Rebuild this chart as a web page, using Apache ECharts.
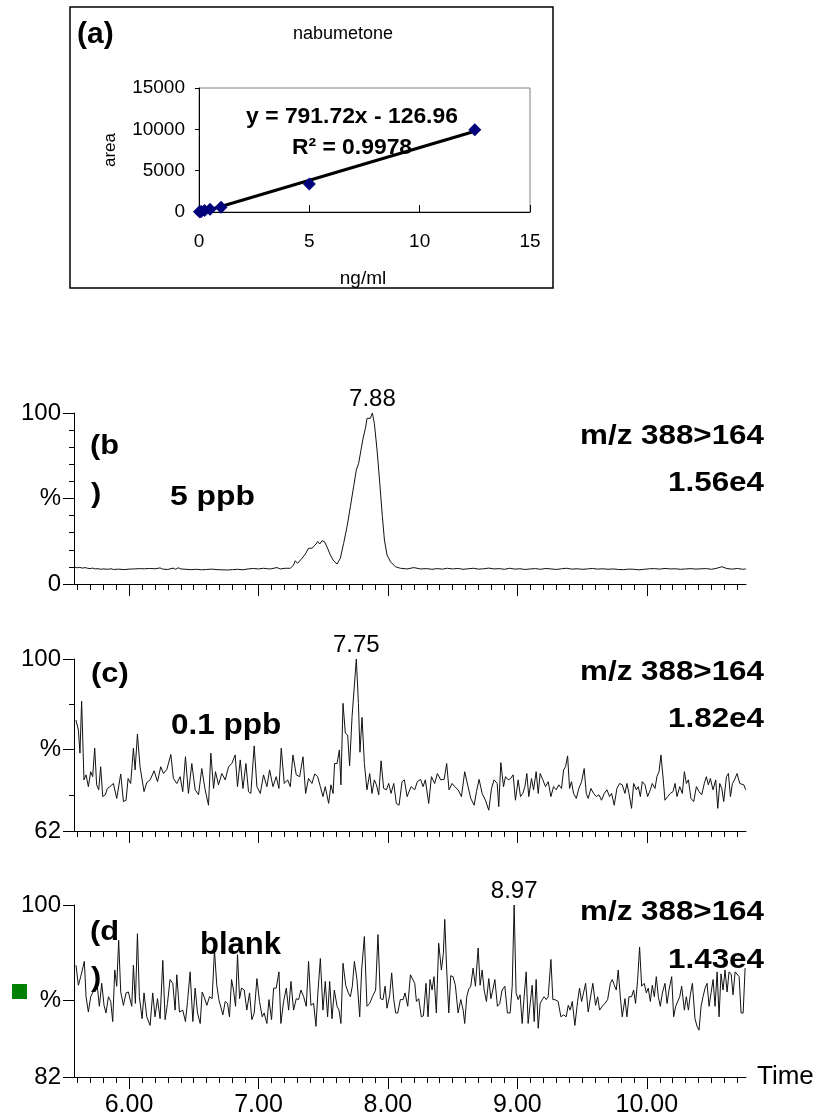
<!DOCTYPE html>
<html><head><meta charset="utf-8">
<script src="https://cdn.jsdelivr.net/npm/echarts@6/dist/echarts.min.js"></script>
<style>html,body{margin:0;padding:0;background:#fff}#c{width:822px;height:1120px}</style>
</head><body><div id="c"></div>
<script>
// ---------- DATA ----------
// (a) calibration
const calConc = [0.02, 0.05, 0.1, 0.25, 0.5, 1, 5, 12.5];
const calArea = [20, 35, 70, 180, 330, 560, 3400, 9950];
const trendLine = [[0, -127], [12.5, 9770]];
const calYTicks = [0, 5000, 10000, 15000];
const calXTicks = [0, 5, 10, 15];

// chromatogram time axis
const timeRange = [5.575, 10.766];
const majorTimes = [6, 7, 8, 9, 10];
const majorLabels = ['6.00', '7.00', '8.00', '9.00', '10.00'];
const minorTimes = [5.6,5.7,5.8,5.9,6.1,6.2,6.3,6.4,6.5,6.6,6.7,6.8,6.9,7.1,7.2,7.3,7.4,7.5,7.6,7.7,7.8,7.9,8.1,8.2,8.3,8.4,8.5,8.6,8.7,8.8,8.9,9.1,9.2,9.3,9.4,9.5,9.6,9.7,9.8,9.9,10.1,10.2,10.3,10.4,10.5,10.6,10.7];

// (b) 5 ppb  [time, %]
const traceB = [[5.58,9.9],[5.60,9.5],[5.62,9.7],[5.64,9.3],[5.66,9.6],[5.68,9.2],[5.70,9.0],[5.72,9.3],[5.74,8.8],[5.76,9.0],[5.78,8.6],[5.80,8.8],[5.84,8.6],[5.86,8.9],[5.88,8.5],[5.92,8.7],[5.96,8.4],[6.00,8.7],[6.04,8.8],[6.08,9.0],[6.12,8.9],[6.16,9.1],[6.20,8.9],[6.24,9.4],[6.26,8.7],[6.30,8.5],[6.34,9.3],[6.36,8.6],[6.38,9.5],[6.40,8.8],[6.44,8.6],[6.48,8.4],[6.52,8.6],[6.56,8.3],[6.60,8.5],[6.64,8.7],[6.68,8.4],[6.72,8.3],[6.76,8.2],[6.80,8.4],[6.84,8.6],[6.88,8.3],[6.92,8.8],[6.96,9.1],[7.00,8.8],[7.04,9.2],[7.07,8.9],[7.091,8.8],[7.143,9.6],[7.168,8.8],[7.207,9.2],[7.246,9.2],[7.271,11.1],[7.284,13.6],[7.302,12.1],[7.336,15.0],[7.362,17.5],[7.387,20.9],[7.413,20.9],[7.439,22.8],[7.457,24.8],[7.473,23.4],[7.491,25.3],[7.509,24.8],[7.529,21.8],[7.555,17.0],[7.581,13.5],[7.607,11.7],[7.632,15.0],[7.658,23.8],[7.684,33.5],[7.710,45.2],[7.735,56.9],[7.756,66.7],[7.774,70.6],[7.792,78.4],[7.808,85.2],[7.826,91.0],[7.839,96.9],[7.852,97.9],[7.864,96.9],[7.880,100.0],[7.895,94.0],[7.916,78.4],[7.937,58.9],[7.957,39.4],[7.973,25.7],[7.993,17.0],[8.019,13.1],[8.058,10.1],[8.096,9.2],[8.148,8.8],[8.200,9.6],[8.251,8.8],[8.30,9.0],[8.34,8.6],[8.38,9.0],[8.42,8.7],[8.46,9.2],[8.50,8.8],[8.54,9.1],[8.58,8.6],[8.62,8.9],[8.66,9.2],[8.70,8.7],[8.74,8.9],[8.78,9.3],[8.82,8.8],[8.86,9.0],[8.90,8.6],[8.94,9.2],[8.98,8.7],[9.02,8.9],[9.06,8.5],[9.10,8.8],[9.14,9.0],[9.18,8.6],[9.22,9.1],[9.26,8.8],[9.30,8.5],[9.34,8.9],[9.38,9.2],[9.42,8.7],[9.46,8.9],[9.50,8.6],[9.54,8.8],[9.58,9.1],[9.62,8.7],[9.66,8.9],[9.70,8.6],[9.74,8.8],[9.78,8.5],[9.82,8.4],[9.86,8.7],[9.90,8.6],[9.94,8.3],[9.98,8.6],[10.02,8.9],[10.06,9.0],[10.10,8.7],[10.14,9.1],[10.18,8.8],[10.22,8.9],[10.26,8.6],[10.30,8.8],[10.34,9.0],[10.38,8.7],[10.42,8.9],[10.46,9.0],[10.50,8.6],[10.54,9.2],[10.58,10.1],[10.62,9.0],[10.66,8.7],[10.70,9.1],[10.74,8.6],[10.764,8.8]];

// (c) 0.1 ppb  [time, %]
const traceC = [[5.590,86.5],[5.609,84.3],[5.621,79.2],[5.634,90.7],[5.652,73.3],[5.668,74.4],[5.686,71.8],[5.704,75.1],[5.719,74.0],[5.735,80.3],[5.750,72.2],[5.766,71.1],[5.781,76.2],[5.797,69.6],[5.817,70.0],[5.833,71.4],[5.853,71.8],[5.879,72.5],[5.905,69.2],[5.936,74.6],[5.957,68.5],[5.977,68.8],[5.993,73.6],[6.013,72.5],[6.034,80.3],[6.047,75.5],[6.065,83.4],[6.085,76.2],[6.116,70.7],[6.137,72.7],[6.163,73.3],[6.194,75.3],[6.220,72.9],[6.245,76.2],[6.266,74.7],[6.292,75.6],[6.323,78.9],[6.343,73.6],[6.369,72.5],[6.395,74.0],[6.415,70.7],[6.436,78.4],[6.459,70.3],[6.485,76.9],[6.511,71.1],[6.537,70.0],[6.562,75.8],[6.588,71.1],[6.614,67.7],[6.632,79.2],[6.653,71.4],[6.668,75.1],[6.691,72.2],[6.717,74.7],[6.743,73.3],[6.769,76.2],[6.794,76.9],[6.820,78.8],[6.838,71.8],[6.859,77.7],[6.880,71.4],[6.903,76.9],[6.923,70.7],[6.941,70.3],[6.967,80.8],[6.988,71.8],[7.014,70.3],[7.039,74.4],[7.065,71.8],[7.086,75.5],[7.112,71.8],[7.137,74.0],[7.158,71.4],[7.176,80.3],[7.199,72.5],[7.225,73.3],[7.246,71.8],[7.266,78.8],[7.292,74.4],[7.318,74.0],[7.344,78.4],[7.364,70.3],[7.387,73.6],[7.413,72.5],[7.434,74.6],[7.457,74.0],[7.478,71.8],[7.498,69.6],[7.516,71.8],[7.542,68.1],[7.560,72.2],[7.576,70.3],[7.588,76.9],[7.607,76.9],[7.625,79.9],[7.637,72.2],[7.653,90.2],[7.671,83.6],[7.689,83.2],[7.704,76.4],[7.723,87.3],[7.735,87.6],[7.756,100.0],[7.772,90.2],[7.784,79.4],[7.800,87.1],[7.818,76.9],[7.838,71.1],[7.859,74.7],[7.877,70.3],[7.895,73.3],[7.911,72.2],[7.929,70.0],[7.947,77.5],[7.967,71.4],[7.988,71.1],[8.006,72.5],[8.024,70.3],[8.045,72.5],[8.065,68.1],[8.086,67.7],[8.109,72.9],[8.127,73.3],[8.148,69.6],[8.179,71.8],[8.207,71.1],[8.227,72.9],[8.253,73.4],[8.271,71.8],[8.289,73.3],[8.315,68.1],[8.336,74.0],[8.361,72.5],[8.382,74.7],[8.408,73.3],[8.434,73.4],[8.454,76.9],[8.472,71.1],[8.496,72.5],[8.516,71.8],[8.542,71.1],[8.568,69.6],[8.593,75.1],[8.619,71.8],[8.640,69.2],[8.666,67.7],[8.684,70.7],[8.704,73.4],[8.728,70.3],[8.753,68.8],[8.779,66.6],[8.800,71.4],[8.820,73.3],[8.844,72.5],[8.856,67.4],[8.872,77.1],[8.893,71.8],[8.908,74.0],[8.929,73.3],[8.949,73.6],[8.967,74.4],[8.985,68.8],[9.006,73.3],[9.024,69.6],[9.042,70.3],[9.058,71.8],[9.073,74.7],[9.088,69.6],[9.109,73.6],[9.125,71.1],[9.145,75.1],[9.161,70.3],[9.176,74.7],[9.197,73.3],[9.217,71.8],[9.238,72.9],[9.259,69.6],[9.279,71.8],[9.300,71.1],[9.320,72.2],[9.341,71.4],[9.357,75.5],[9.372,76.2],[9.388,78.6],[9.403,71.4],[9.418,72.9],[9.434,70.3],[9.455,69.2],[9.475,71.4],[9.496,72.9],[9.516,75.8],[9.532,70.3],[9.547,69.2],[9.568,71.4],[9.589,70.3],[9.609,69.6],[9.630,70.0],[9.650,68.8],[9.671,70.3],[9.692,71.1],[9.712,69.6],[9.728,70.3],[9.748,67.7],[9.769,71.4],[9.790,72.5],[9.810,72.2],[9.831,70.3],[9.846,72.5],[9.862,70.3],[9.882,67.0],[9.898,72.5],[9.919,71.1],[9.934,71.8],[9.950,69.6],[9.965,72.9],[9.986,72.2],[10.006,69.6],[10.027,71.1],[10.042,72.5],[10.063,71.4],[10.078,74.0],[10.094,75.1],[10.109,78.8],[10.127,73.3],[10.140,68.8],[10.161,69.6],[10.181,70.3],[10.202,70.7],[10.218,72.5],[10.233,69.6],[10.254,71.8],[10.274,70.3],[10.290,75.1],[10.305,72.5],[10.321,73.3],[10.341,69.2],[10.362,68.5],[10.383,71.8],[10.403,70.7],[10.424,70.0],[10.444,72.5],[10.460,74.0],[10.475,72.2],[10.491,73.6],[10.511,71.1],[10.532,73.3],[10.548,67.0],[10.563,72.5],[10.579,71.4],[10.594,68.5],[10.615,74.0],[10.630,74.7],[10.646,69.6],[10.661,72.5],[10.677,73.3],[10.697,74.7],[10.718,72.5],[10.733,72.9],[10.749,72.2],[10.764,71.1]];

// (d) blank  [time, %]
const traceD = [[5.590,93.7],[5.609,91.6],[5.627,92.5],[5.642,92.4],[5.655,94.1],[5.668,90.4],[5.686,88.8],[5.704,90.4],[5.719,90.2],[5.737,91.3],[5.755,91.5],[5.771,89.4],[5.789,91.8],[5.807,89.5],[5.822,88.7],[5.841,90.4],[5.859,89.9],[5.874,87.8],[5.890,93.2],[5.905,91.5],[5.920,96.3],[5.936,90.9],[5.957,89.5],[5.977,90.8],[5.995,90.9],[6.021,89.4],[6.034,93.7],[6.049,89.7],[6.065,97.0],[6.080,90.4],[6.101,88.1],[6.116,90.8],[6.137,88.3],[6.163,87.4],[6.183,90.8],[6.201,88.3],[6.220,90.2],[6.240,88.1],[6.261,94.2],[6.279,88.0],[6.297,89.7],[6.317,92.2],[6.338,91.8],[6.356,89.0],[6.369,92.7],[6.390,88.8],[6.415,89.0],[6.436,87.8],[6.452,89.9],[6.472,93.0],[6.493,87.8],[6.511,91.3],[6.529,88.7],[6.550,87.6],[6.565,90.9],[6.580,90.4],[6.601,89.5],[6.622,90.4],[6.642,90.2],[6.660,95.3],[6.678,91.6],[6.694,90.1],[6.709,90.1],[6.725,88.5],[6.743,89.9],[6.761,89.7],[6.776,88.3],[6.792,92.2],[6.807,91.1],[6.823,89.4],[6.838,94.8],[6.854,90.2],[6.869,91.3],[6.890,91.1],[6.910,89.0],[6.931,90.8],[6.949,88.0],[6.967,88.7],[6.988,92.3],[7.008,89.9],[7.029,88.3],[7.044,88.7],[7.065,87.6],[7.081,90.1],[7.101,88.0],[7.117,91.3],[7.137,91.3],[7.158,93.0],[7.173,87.6],[7.194,89.9],[7.215,91.3],[7.233,89.0],[7.251,92.0],[7.271,89.0],[7.292,90.2],[7.310,90.1],[7.328,91.1],[7.349,90.4],[7.369,89.4],[7.387,94.1],[7.405,89.5],[7.426,89.7],[7.444,87.3],[7.459,90.8],[7.478,94.4],[7.498,89.0],[7.516,92.0],[7.534,88.3],[7.550,92.0],[7.568,88.1],[7.586,91.1],[7.607,89.4],[7.622,89.0],[7.637,87.6],[7.653,93.9],[7.674,91.6],[7.694,90.8],[7.710,90.4],[7.725,91.5],[7.741,94.1],[7.761,92.2],[7.782,88.3],[7.797,93.2],[7.818,96.7],[7.838,89.4],[7.859,89.7],[7.880,90.4],[7.905,91.1],[7.923,96.9],[7.942,90.2],[7.962,90.1],[7.978,91.5],[7.993,89.2],[8.014,90.6],[8.029,92.9],[8.045,90.1],[8.060,88.7],[8.076,88.7],[8.096,90.1],[8.117,90.1],[8.132,90.8],[8.153,89.4],[8.174,92.7],[8.207,91.8],[8.220,89.9],[8.238,90.2],[8.258,88.3],[8.274,88.4],[8.294,91.8],[8.310,88.3],[8.325,92.2],[8.341,91.1],[8.356,92.5],[8.374,88.7],[8.392,96.0],[8.413,93.2],[8.428,94.9],[8.439,98.5],[8.454,93.2],[8.470,88.7],[8.485,92.6],[8.503,92.5],[8.521,91.6],[8.542,88.7],[8.563,90.1],[8.581,89.0],[8.593,87.6],[8.609,90.4],[8.624,91.2],[8.640,91.5],[8.658,93.4],[8.676,91.5],[8.697,95.5],[8.712,91.6],[8.728,93.2],[8.743,91.1],[8.761,89.9],[8.779,92.3],[8.795,90.2],[8.810,91.1],[8.826,92.2],[8.846,89.4],[8.864,89.7],[8.882,91.1],[8.903,91.5],[8.923,88.7],[8.944,88.7],[8.960,91.5],[8.975,100.0],[8.990,90.8],[9.006,90.1],[9.021,90.6],[9.037,87.6],[9.052,90.4],[9.068,93.0],[9.083,87.6],[9.099,89.7],[9.114,91.6],[9.130,87.8],[9.145,92.2],[9.161,87.1],[9.176,89.7],[9.192,90.1],[9.207,90.4],[9.223,90.1],[9.238,90.4],[9.259,94.3],[9.274,90.1],[9.290,90.1],[9.315,89.9],[9.336,88.3],[9.357,88.5],[9.377,88.3],[9.393,89.5],[9.408,89.0],[9.424,89.9],[9.444,87.4],[9.465,89.9],[9.480,91.3],[9.496,89.9],[9.511,90.8],[9.527,91.8],[9.547,88.8],[9.568,90.6],[9.583,91.8],[9.604,89.5],[9.620,90.4],[9.635,89.0],[9.656,89.4],[9.676,89.7],[9.697,90.1],[9.718,91.8],[9.733,92.2],[9.749,91.6],[9.764,91.1],[9.779,93.2],[9.795,90.4],[9.810,88.3],[9.831,90.2],[9.846,88.3],[9.862,90.4],[9.882,90.4],[9.898,91.1],[9.913,89.7],[9.929,92.2],[9.944,95.6],[9.960,91.5],[9.980,91.8],[9.996,90.8],[10.011,91.3],[10.027,89.9],[10.042,91.6],[10.058,90.4],[10.073,92.5],[10.089,90.4],[10.104,89.4],[10.120,90.8],[10.140,91.8],[10.156,89.7],[10.171,91.1],[10.192,92.5],[10.207,88.3],[10.223,89.4],[10.238,89.5],[10.254,90.4],[10.269,91.5],[10.290,89.0],[10.305,90.4],[10.321,89.0],[10.336,90.6],[10.352,91.8],[10.372,88.1],[10.388,87.3],[10.403,86.9],[10.419,89.4],[10.434,90.4],[10.450,91.3],[10.465,91.8],[10.481,89.4],[10.496,90.8],[10.512,92.2],[10.527,89.4],[10.543,93.0],[10.558,88.3],[10.573,92.8],[10.589,91.1],[10.604,93.2],[10.620,90.9],[10.635,93.0],[10.651,92.8],[10.666,90.6],[10.682,93.0],[10.697,93.2],[10.713,92.5],[10.728,88.7],[10.744,88.7],[10.759,93.4]];

// y-axis settings per chromatogram
const yRangeB = [0, 100], yLabelsB = [0, 50, 100], yMinorB = [10,20,30,40,60,70,80,90], pctB = 50;
const yRangeC = [62, 100], yLabelsC = [62, 80, 100], yMinorC = [70, 90], pctC = 80;
const yRangeD = [82, 100], yLabelsD = [82, 90, 100], yMinorD = [], pctD = 90;
const peakB = [7.880, 100, '7.88'], peakC = [7.756, 100, '7.75'], peakD = [8.975, 100, '8.97'];

// ---------- CHART ----------
const FF = '"Liberation Sans", Arial, sans-serif';
const chart = echarts.init(document.getElementById('c'), null, {renderer: 'canvas'});

const grids = [
  {left: 199, top: 88, width: 331, height: 124, show: true, borderColor: '#808080', borderWidth: 1, backgroundColor: '#fff'},
  {left: 74, top: 413, width: 672, height: 171},
  {left: 74, top: 659, width: 672, height: 172},
  {left: 74, top: 905, width: 672, height: 172}
];

const xAxes = [{
  type: 'value', gridIndex: 0, min: calXTicks[0], max: calXTicks[calXTicks.length - 1], interval: 5,
  axisLine: {show: true, onZero: false, lineStyle: {color: '#000', width: 1}},
  axisTick: {show: true, inside: true, length: 7, lineStyle: {color: '#000'}},
  axisLabel: {color: '#000', fontSize: 19, fontFamily: FF, margin: 20, formatter: v => String(v)},
  splitLine: {show: false}
}];
const yAxes = [{
  type: 'value', gridIndex: 0, min: calYTicks[0], max: calYTicks[calYTicks.length - 1], interval: 5000,
  axisLine: {show: true, lineStyle: {color: '#000', width: 1}},
  axisTick: {show: true, length: 4, lineStyle: {color: '#000'}},
  axisLabel: {color: '#000', fontSize: 19, fontFamily: FF, margin: 14, formatter: v => String(v)},
  splitLine: {show: false}
}];

function addChrom(gi, yRange, yLabels, yMinor, pct, showXLabels) {
  const xi = xAxes.length;
  xAxes.push({
    type: 'value', gridIndex: gi, min: timeRange[0], max: timeRange[1], position: 'bottom',
    axisLine: {show: true, onZero: false, lineStyle: {color: '#000', width: 1}},
    axisTick: {show: true, customValues: majorTimes, length: 12, lineStyle: {color: '#000', width: 1}},
    axisLabel: {show: showXLabels, customValues: majorTimes, color: '#000', fontSize: 25, fontFamily: FF, margin: 16,
      formatter: v => majorLabels[majorTimes.indexOf(Math.round(v))] || ''},
    name: showXLabels ? 'Time' : '', nameLocation: 'end', nameGap: 11,
    nameTextStyle: {color: '#000', fontSize: 26, fontFamily: FF, verticalAlign: 'middle', align: 'left'},
    splitLine: {show: false}
  });
  xAxes.push({
    type: 'value', gridIndex: gi, min: timeRange[0], max: timeRange[1], position: 'bottom',
    axisLine: {show: false},
    axisTick: {show: true, customValues: minorTimes, length: 6, lineStyle: {color: '#000', width: 1}},
    axisLabel: {show: false}, splitLine: {show: false}
  });
  const yi = yAxes.length;
  yAxes.push({
    type: 'value', gridIndex: gi, min: yRange[0], max: yRange[1], position: 'left',
    axisLine: {show: true, lineStyle: {color: '#000', width: 1}},
    axisTick: {show: true, customValues: yLabels, length: 11, lineStyle: {color: '#000', width: 1}},
    axisLabel: {show: true, customValues: yLabels, color: '#000', fontSize: 24, fontFamily: FF, margin: 13,
      formatter: v => (Math.abs(v - pct) < 1e-6 ? '%' : String(v))},
    splitLine: {show: false}
  });
  yAxes.push({
    type: 'value', gridIndex: gi, min: yRange[0], max: yRange[1], position: 'left',
    axisLine: {show: false},
    axisTick: {show: yMinor.length > 0, customValues: yMinor.length ? yMinor : [yRange[0]], length: 5, lineStyle: {color: '#000', width: 1}},
    axisLabel: {show: false}, splitLine: {show: false}
  });
  return [xi, yi];
}
const axB = addChrom(1, yRangeB, yLabelsB, yMinorB, pctB, false);
const axC = addChrom(2, yRangeC, yLabelsC, yMinorC, pctC, false);
const axD = addChrom(3, yRangeD, yLabelsD, yMinorD, pctD, true);

function chromSeries(ax, data, peak) {
  return {
    type: 'line', xAxisIndex: ax[0], yAxisIndex: ax[1], data: data,
    showSymbol: false, symbol: 'none', smooth: false,
    lineStyle: {color: '#111', width: 1}, z: 3,
    markPoint: {
      symbol: 'circle', symbolSize: 1, itemStyle: {color: 'rgba(0,0,0,0)'},
      label: {show: true, position: 'top', distance: 1, color: '#000', fontSize: 24, fontFamily: FF, formatter: peak[2]},
      data: [{coord: [peak[0], peak[1]]}]
    }
  };
}

const series = [
  {type: 'line', xAxisIndex: 0, yAxisIndex: 0, data: trendLine, symbol: 'none',
   lineStyle: {color: '#000', width: 3}, z: 3},
  {type: 'scatter', xAxisIndex: 0, yAxisIndex: 0, data: calConc.map((c, i) => [c, calArea[i]]),
   symbol: 'diamond', symbolSize: 13, itemStyle: {color: '#00007a', opacity: 1}, z: 4},
  chromSeries(axB, traceB, peakB),
  chromSeries(axC, traceC, peakC),
  chromSeries(axD, traceD, peakD)
];

function T(text, x, y, o) {
  o = o || {};
  return {
    type: 'text', x: x, y: y, scaleX: o.sx || 1, rotation: o.rot || 0, z: 10,
    style: {text: text, fill: '#000', font: (o.bold ? 'bold ' : '') + (o.size || 16) + 'px ' + FF,
      textAlign: o.align || 'left', textVerticalAlign: 'middle'}
  };
}

const graphics = [
  {type: 'rect', shape: {x: 70, y: 7, width: 483, height: 281}, style: {fill: 'none', stroke: '#000', lineWidth: 1.5}, z: 0},
  T('(a)', 77, 35, {bold: true, size: 30}),
  T('nabumetone', 343, 34, {size: 18, align: 'center'}),
  T('y = 791.72x - 126.96', 352, 117, {bold: true, size: 22, align: 'center', sx: 1.04}),
  T('R² = 0.9978', 352, 148, {bold: true, size: 22, align: 'center', sx: 1.04}),
  T('area', 110, 150, {size: 17, align: 'center', rot: Math.PI / 2}),
  T('ng/ml', 363, 279, {size: 19, align: 'center'}),
  // (b)
  T('(b', 90, 446, {bold: true, size: 28, sx: 1.1}),
  T(')', 91, 494, {bold: true, size: 28, sx: 1.1}),
  T('5 ppb', 170, 497, {bold: true, size: 28, sx: 1.14}),
  T('m/z 388>164', 764, 436, {bold: true, size: 28, sx: 1.12, align: 'right'}),
  T('1.56e4', 764, 483, {bold: true, size: 28, sx: 1.12, align: 'right'}),
  // (c)
  T('(c)', 91, 674, {bold: true, size: 28, sx: 1.1}),
  T('0.1 ppb', 171, 726, {bold: true, size: 30, sx: 1.05}),
  T('m/z 388>164', 764, 672, {bold: true, size: 28, sx: 1.12, align: 'right'}),
  T('1.82e4', 764, 719, {bold: true, size: 28, sx: 1.12, align: 'right'}),
  // (d)
  T('(d', 90, 932, {bold: true, size: 28, sx: 1.1}),
  T(')', 91, 978, {bold: true, size: 28, sx: 1.1}),
  T('blank', 200, 945, {bold: true, size: 31}),
  T('m/z 388>164', 764, 912, {bold: true, size: 28, sx: 1.12, align: 'right'}),
  T('1.43e4', 764, 960, {bold: true, size: 28, sx: 1.12, align: 'right'}),
  {type: 'rect', shape: {x: 12, y: 984, width: 15, height: 15}, style: {fill: '#008000'}, z: 10}
];

chart.setOption({
  backgroundColor: '#fff',
  animation: false,
  grid: grids,
  xAxis: xAxes,
  yAxis: yAxes,
  series: series,
  graphic: graphics
});
</script>
</body></html>
